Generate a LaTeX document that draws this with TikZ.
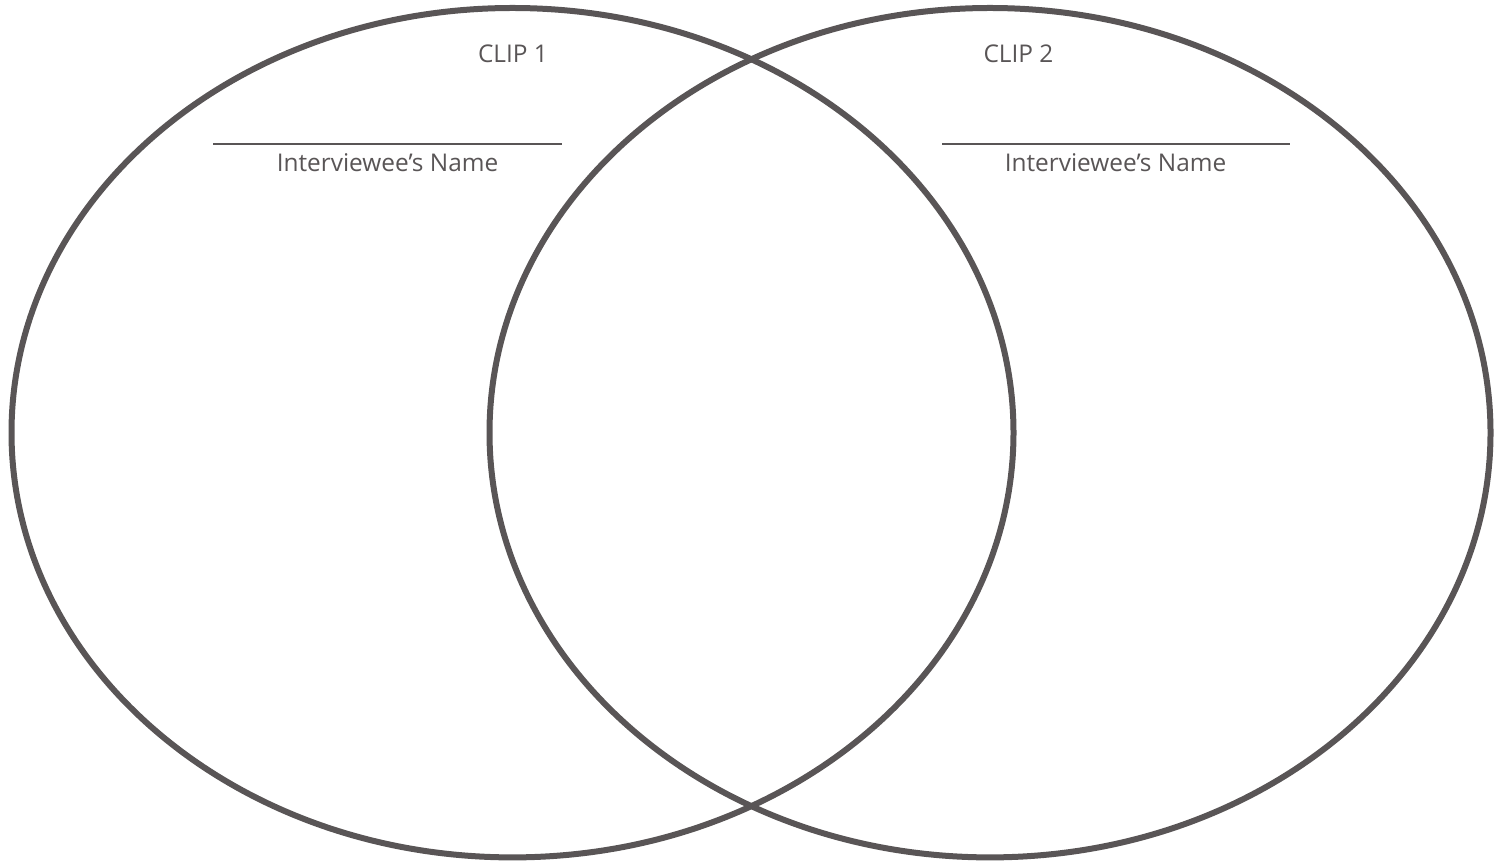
\documentclass[tikz,border=0pt]{standalone}
\usepackage{fontspec}
\setmainfont{Open Sans}
\usetikzlibrary{positioning}
\definecolor{venngray}{RGB}{89,85,86}
\tikzset{
  ring/.style={draw=venngray, line width=3pt},
  rule/.style={draw=venngray, line width=1pt},
  cliplabel/.style={text=venngray, font=\fontsize{12.2}{14}\selectfont, anchor=base, inner sep=0pt},
  namelabel/.style={text=venngray, font=\fontsize{12.2}{14}\selectfont, anchor=base, inner sep=0pt}
}

\begin{document}
\begin{tikzpicture}[x=0.5pt, y=-0.5pt]
\useasboundingbox (0,0) rectangle (1507,865);
% the two circles
\draw[ring] (512.5,432.7) ellipse [x radius=501, y radius=424.7];
\draw[ring] (990,432.7) ellipse [x radius=500.5, y radius=424.7];
% left side
\node[cliplabel] (clip1) at (513,63) {CLIP 1};
\coordinate (line1a) at (213,144);
\coordinate (line1b) at (562,144);
\draw[rule] (line1a) -- (line1b);
\node[namelabel] (name1) at (387.5,172) {Interviewee’s Name};
% right side
\node[cliplabel] (clip2) at (1018.5,63) {CLIP 2};
\coordinate (line2a) at (942,144);
\coordinate (line2b) at (1290,144);
\draw[rule] (line2a) -- (line2b);
\node[namelabel] (name2) at (1115.5,172) {Interviewee’s Name};
\end{tikzpicture}
\end{document}
